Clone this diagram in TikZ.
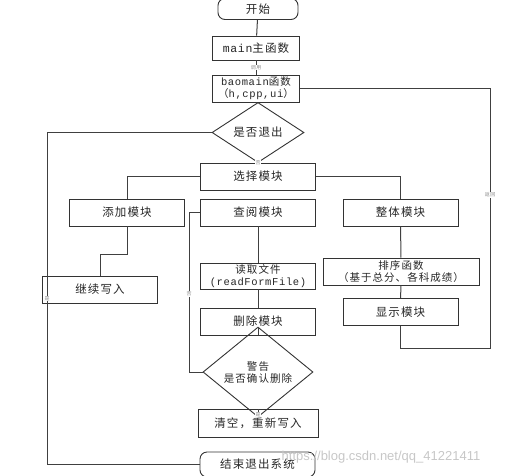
\documentclass[tikz,border=0pt]{standalone}
\usepackage{fontspec}
\setmainfont{Noto Sans CJK SC}[LetterSpace=10]
\newfontfamily\lat{Liberation Mono}[LetterSpace=6]
\newfontfamily\wm{Liberation Sans}
\usetikzlibrary{shapes.geometric}
\begin{document}
\begin{tikzpicture}[x=1pt,y=-1pt,
  every node/.style={font=\fontsize{11.5}{13}\selectfont, text=black!85},
  box/.style={draw=black!80, line width=0.9pt, rectangle, minimum width=115, minimum height=27, inner sep=1pt, align=center},
  rbox/.style={box, rounded corners=7pt},
  dia/.style={draw=black!80, line width=0.9pt, diamond, inner sep=0pt, align=center},
  two/.style={font=\fontsize{10.5}{12}\selectfont},
  conn/.style={draw=black!75, line width=1pt},
  lbl/.style={fill=white, inner sep=0.5pt, font=\fontsize{5}{6}\selectfont, text=black!45}]
\useasboundingbox (0,0) rectangle (510,475);
% nodes
\node[rbox, minimum width=80, minimum height=21] (start) at (258,9) {开始};
\node[box, minimum width=87, minimum height=24] (main) at (256,48) {{\lat main}主函数};
\node[box, two, minimum width=87, minimum height=27] (bao) at (256,88.5) {{\lat baomain}函数\\（{\lat h,cpp,ui}）};
\node[dia, minimum width=92, minimum height=45] (quit) at (258,132.5) {是否退出};
\node[box] (sel) at (258,176.5) {选择模块};
\node[box] (add) at (127,212.5) {添加模块};
\node[box] (query) at (258,212.5) {查阅模块};
\node[box] (whole) at (400.5,212.5) {整体模块};
\node[box] (cont) at (100,289.5) {继续写入};
\node[box, two, minimum height=26] (read) at (258,276) {读取文件\\{\lat (readFormFile)}};
\node[box] (del) at (258,321.5) {删除模块};
\node[dia, two, minimum width=110, minimum height=48] (warn) at (258,372) {警告\\是否确认删除};
\node[box, minimum width=120, minimum height=28] (clear) at (258,423) {清空，重新写入};
\node[box, two, minimum width=156, minimum height=27] (sort) at (401,271.5) {排序函数\\（基于总分、各科成绩）};
\node[box] (show) at (400.5,312) {显示模块};
\node[rbox, minimum width=115, minimum height=25] (end) at (257.5,464.5) {结束退出系统};
% helper coordinates
\coordinate (L) at (47,0);
\coordinate (R) at (490,0);
\coordinate (LL) at (189,0);
\coordinate (B) at (0,348);
% connectors
\draw[conn] (start) -- (main);
\draw[conn] (main) -- node[lbl]{调用} (bao);
\draw[conn] (bao) -- (quit);
\draw[conn] (quit) -- node[lbl, pos=0.3]{否} (sel);
\draw[conn] (quit.west) -- (quit.west -| L) -- node[lbl, pos=0.5]{是} (end.west -| L) -- (end.west);
\draw[conn] (bao.east) -- (bao.east -| R) -- node[lbl, pos=0.41]{返回} (B -| R) -- (B -| show.south) -- (show.south);
\draw[conn] (sel.west) -| (add.north);
\draw[conn] (sel.east) -| (whole.north);
\draw[conn] (add.south) -- ++(0,28) -| (cont.north);
\draw[conn] (query) -- (read);
\draw[conn] (read) -- (del);
\draw[conn] (del) -- (warn);
\draw[conn] (warn.west) -- (warn.west -| LL) -- node[lbl, pos=0.49]{否} (query.west -| LL) -- (query.west);
\draw[conn] (warn.south) -- node[lbl, pos=0.35]{是} (clear.north);
\draw[conn] (whole) -- (sort);
\draw[conn] (sort) -- (show);
% watermark
\node[font=\wm\fontsize{13}{14}\selectfont, text=black!22, inner sep=0pt] (wmark) at (381,457) {https://blog.csdn.net/qq\_41221411};
\end{tikzpicture}
\end{document}
